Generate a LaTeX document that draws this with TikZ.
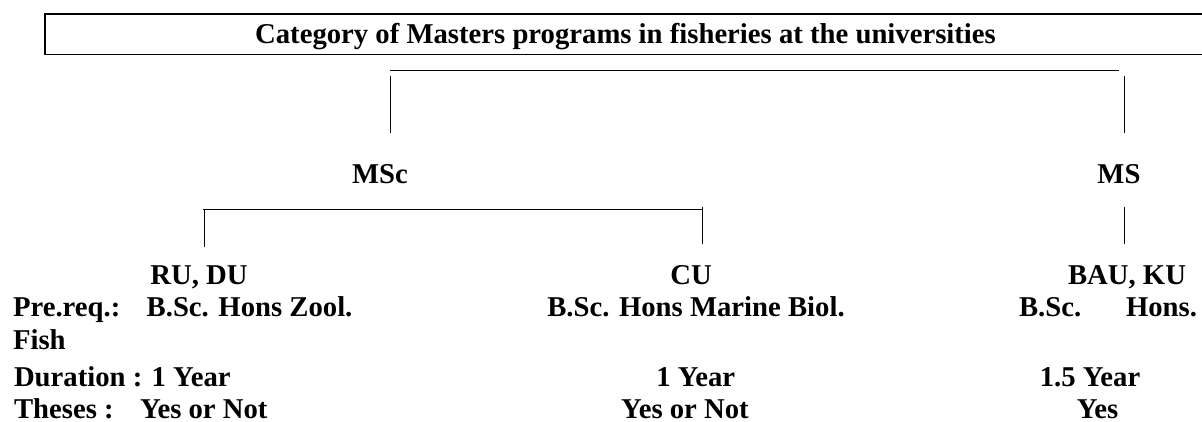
\documentclass[tikz,border=0pt]{standalone}
\usepackage{fontspec}
\setmainfont{Liberation Serif}
\begin{document}
\begin{tikzpicture}[x=1pt,y=-1pt,
  txt/.style={inner sep=0pt,outer sep=0pt,font=\fontsize{28.7}{33}\selectfont\bfseries},
  ctr/.style={txt,anchor=base},
  lft/.style={txt,anchor=base west},
  boxline/.style={line width=1.3pt},
  conn/.style={line width=0.9pt}]
\useasboundingbox (0,0) rectangle (1202,421);
% title
\node[ctr] (title) at (625.5,43.5) {Category of Masters programs in fisheries at the universities};
\draw[boxline] (1210,14) -- (45,14) -- (45,54.3) -- (1210,54.3);
% level 1
\node[ctr] (msc) at (380,183) {MSc};
\node[ctr] (ms) at (1119,183) {MS};
\coordinate (t1l) at (390.4,70.7);
\coordinate (t1r) at (1118.6,70.7);
\coordinate (v1a) at (390.4,76);
\coordinate (v1b) at (390.4,133.3);
\coordinate (v2a) at (1124.3,76);
\coordinate (v2b) at (1124.3,133.3);
\draw[conn] (t1l) -- (t1r);
\draw[conn] (v1a) -- (v1b);
\draw[conn] (v2a) -- (v2b);
% level 2
\node[ctr] (ru) at (199,284) {RU, DU};
\node[ctr] (cu) at (691,284) {CU};
\node[ctr] (bau) at (1127,284) {BAU, KU};
\coordinate (h2l) at (203,209);
\coordinate (h2r) at (702.6,209);
\coordinate (w1b) at (204,246.7);
\coordinate (w2a) at (702.6,206.7);
\coordinate (w2b) at (702.6,244.3);
\coordinate (w3a) at (1124.3,206.7);
\coordinate (w3b) at (1124.3,244.3);
\draw[conn] (h2l) -- (h2r);
\draw[conn] (h2l -| w1b) -- (w1b);
\draw[conn] (w2a) -- (w2b);
\draw[conn] (w3a) -- (w3b);
% details
\node[lft] (prl) at (13,316.7) {Pre.req.:};
\node[lft] (pr1) at (146.7,316.7) {B.Sc. Hons Zool.};
\node[ctr] (pr2) at (696,316.7) {B.Sc. Hons Marine Biol.};
\node[lft] (pr3) at (1019,316.7) {\makebox[178pt][l]{B.Sc.\hfill Hons.}};
\node[lft] (fish) at (13,349.3) {Fish};
\node[lft] (dul) at (14,386.7) {Duration :};
\node[lft] (du1) at (151.7,386.7) {1 Year};
\node[ctr] (du2) at (695.7,386.7) {1 Year};
\node[ctr] (du3) at (1090,386.7) {1.5 Year};
\node[lft] (thl) at (14,418.3) {Theses :};
\node[lft] (th1) at (140,418.3) {Yes or Not};
\node[ctr] (th2) at (685,418.3) {Yes or Not};
\node[ctr] (th3) at (1097.5,418.3) {Yes};
\end{tikzpicture}
\end{document}
